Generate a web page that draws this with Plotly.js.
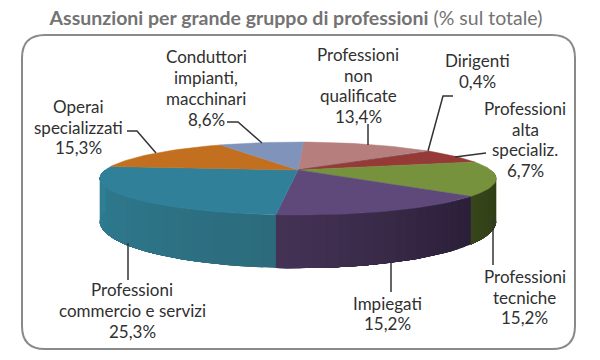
<!DOCTYPE html>
<html><head><meta charset="utf-8">
<script src="https://cdn.plot.ly/plotly-3.0.1.min.js"></script>
<style>html,body{margin:0;padding:0;background:#fff}#c{width:600px;height:360px}</style>
</head><body><div id="c"></div>
<script>
// Data, clockwise from the top
var categories = ["Professioni non qualificate","Dirigenti","Professioni alta specializ.","Professioni tecniche","Impiegati","Professioni commercio e servizi","Operai specializzati","Conduttori impianti, macchinari"];
var values = [13.4,0.4,6.7,15.2,15.2,25.3,15.3,8.6];
var valueLabels = ["13,4%","0,4%","6,7%","15,2%","15,2%","25,3%","15,3%","8,6%"];
var labelLines = [
 ["Professioni","non","qualificate"],["Dirigenti"],["Professioni","alta","specializ."],
 ["Professioni","tecniche"],["Impiegati"],["Professioni","commercio e servizi"],
 ["Operai","specializzati"],["Conduttori","impianti,","macchinari"]];
var labelX = [358,477,525,524.5,387,132,78,206];
var labelY = [85.5,71,139.5,297,313.5,310.5,127,88];
var topColors = ["#b67f7d","#5c5a68","#963a38","#76923c","#5f497a","#31809a","#c2701f","#7f93bb"];
var sideLeft  = ["#000","#000","#000","#36451a","#453355","#2f7f95","#000","#000"];
var sideRight = ["#000","#000","#000","#2c3a14","#2a1e38","#2c6b7c","#000","#000"];
var leaders = [
 [[368,368],[124,145]],
 [[453,443,428],[96,96,151]],
 [[486,455],[153,157]],
 [[493,493],[220,265]],
 [[391,391],[262,292]],
 [[128,128],[243,280]],
 [[127,137,156],[131,131,153]],
 [[227,238,262],[122,122,143]]
];

// Perspective of the tilted disc, fitted to the picture
var cx=298, horizon=22, dist=4.29, focal=827, topH=635, bottomH=810, startDeg=2;
function px(t){return cx+focal*Math.sin(t)/(dist+Math.cos(t));}
function py(t,h){return horizon+h/(dist+Math.cos(t));}
function rad(d){return d*Math.PI/180;}
function hex(c){return [1,3,5].map(function(i){return parseInt(c.substr(i,2),16);});}
function mix(a,b,f){var A=hex(a),B=hex(b);return "rgb("+A.map(function(v,i){return Math.round(v+(B[i]-v)*f);}).join(",")+")";}

var total=values.reduce(function(a,b){return a+b;},0);
var sides=[], tops=[], acc=0;
values.forEach(function(v,i){
  var a0=startDeg+acc/total*360, a1=startDeg+(acc+v)/total*360; acc+=v;
  var apexY=horizon+topH/dist;
  var xs=[cx], ys=[apexY];
  var n=Math.max(3,Math.ceil((a1-a0)/2));
  for(var k=0;k<=n;k++){var t=rad(a0+(a1-a0)*k/n);xs.push(px(t));ys.push(py(t,topH));}
  xs.push(cx);ys.push(apexY);
  tops.push({x:xs,y:ys,mode:"lines",fill:"toself",fillcolor:topColors[i],line:{color:topColors[i],width:0.5},hoverinfo:"text",text:categories[i]+" "+valueLabels[i],showlegend:false});
  // side wall on the near half; each band runs to the end of the slice and the next one paints over it
  var s0=Math.max(a0,90), s1=Math.min(a1,270);
  if(s1>s0){
    var m=Math.ceil((s1-s0)/3);
    for(var j=0;j<m;j++){
      var col=mix(sideRight[i],sideLeft[i],(j+0.5)/m);
      var sx=[],sy=[],bx=[],by=[];
      for(var h=j;h<=m;h++){var p=rad(s0+(s1-s0)*h/m);sx.push(px(p));sy.push(py(p,topH));bx.unshift(px(p));by.unshift(py(p,bottomH));}
      sides.push({x:sx.concat(bx,[sx[0]]),y:sy.concat(by,[sy[0]]),mode:"lines",fill:"toself",fillcolor:col,line:{width:0},hoverinfo:"skip",showlegend:false});
    }
  }
});
var traces=sides.concat(tops);

var annotations=[];
categories.forEach(function(c,i){
  var lines=labelLines[i].concat([valueLabels[i]]);
  lines.forEach(function(txt,k){
    annotations.push({x:labelX[i],y:labelY[i]+(k-(lines.length-1)/2)*20.7,xref:"x",yref:"y",showarrow:false,xanchor:"center",yanchor:"middle",align:"center",
      text:txt,font:{family:"Lato, sans-serif",size:17,color:"#303030"}});
  });
});
var shapes=leaders.map(function(l){
  var path=l[0].map(function(x,k){return (k?"L":"M")+x+","+l[1][k];}).join(" ");
  return {type:"path",path:path,xref:"x",yref:"y",line:{color:"#333",width:1.5},layer:"above"};
});
// rounded card
var L=22,R=575,T=35,B=349,r=23;
shapes.unshift({type:"path",xref:"x",yref:"y",layer:"below",line:{color:"#8a8a8a",width:2},fillcolor:"rgba(0,0,0,0)",
  path:"M"+(L+r)+","+T+" L"+(R-r)+","+T+" Q"+R+","+T+" "+R+","+(T+r)+" L"+R+","+(B-r)+" Q"+R+","+B+" "+(R-r)+","+B+" L"+(L+r)+","+B+" Q"+L+","+B+" "+L+","+(B-r)+" L"+L+","+(T+r)+" Q"+L+","+T+" "+(L+r)+","+T+" Z"});

var layout={width:600,height:360,margin:{l:0,r:0,t:0,b:0},paper_bgcolor:"#fff",plot_bgcolor:"#fff",showlegend:false,
  title:{text:"<b>Assunzioni per grande gruppo di professioni</b> (% sul totale)",x:296/600,xanchor:"center",y:1-18/360,yanchor:"middle",
    font:{family:"Lato, sans-serif",size:19.5,color:"#737373"}},
  xaxis:{range:[0,600],visible:false,fixedrange:true},
  yaxis:{range:[360,0],visible:false,fixedrange:true},
  annotations:annotations,shapes:shapes};
Plotly.newPlot("c",traces,layout,{displayModeBar:false,responsive:false});
</script></body></html>
